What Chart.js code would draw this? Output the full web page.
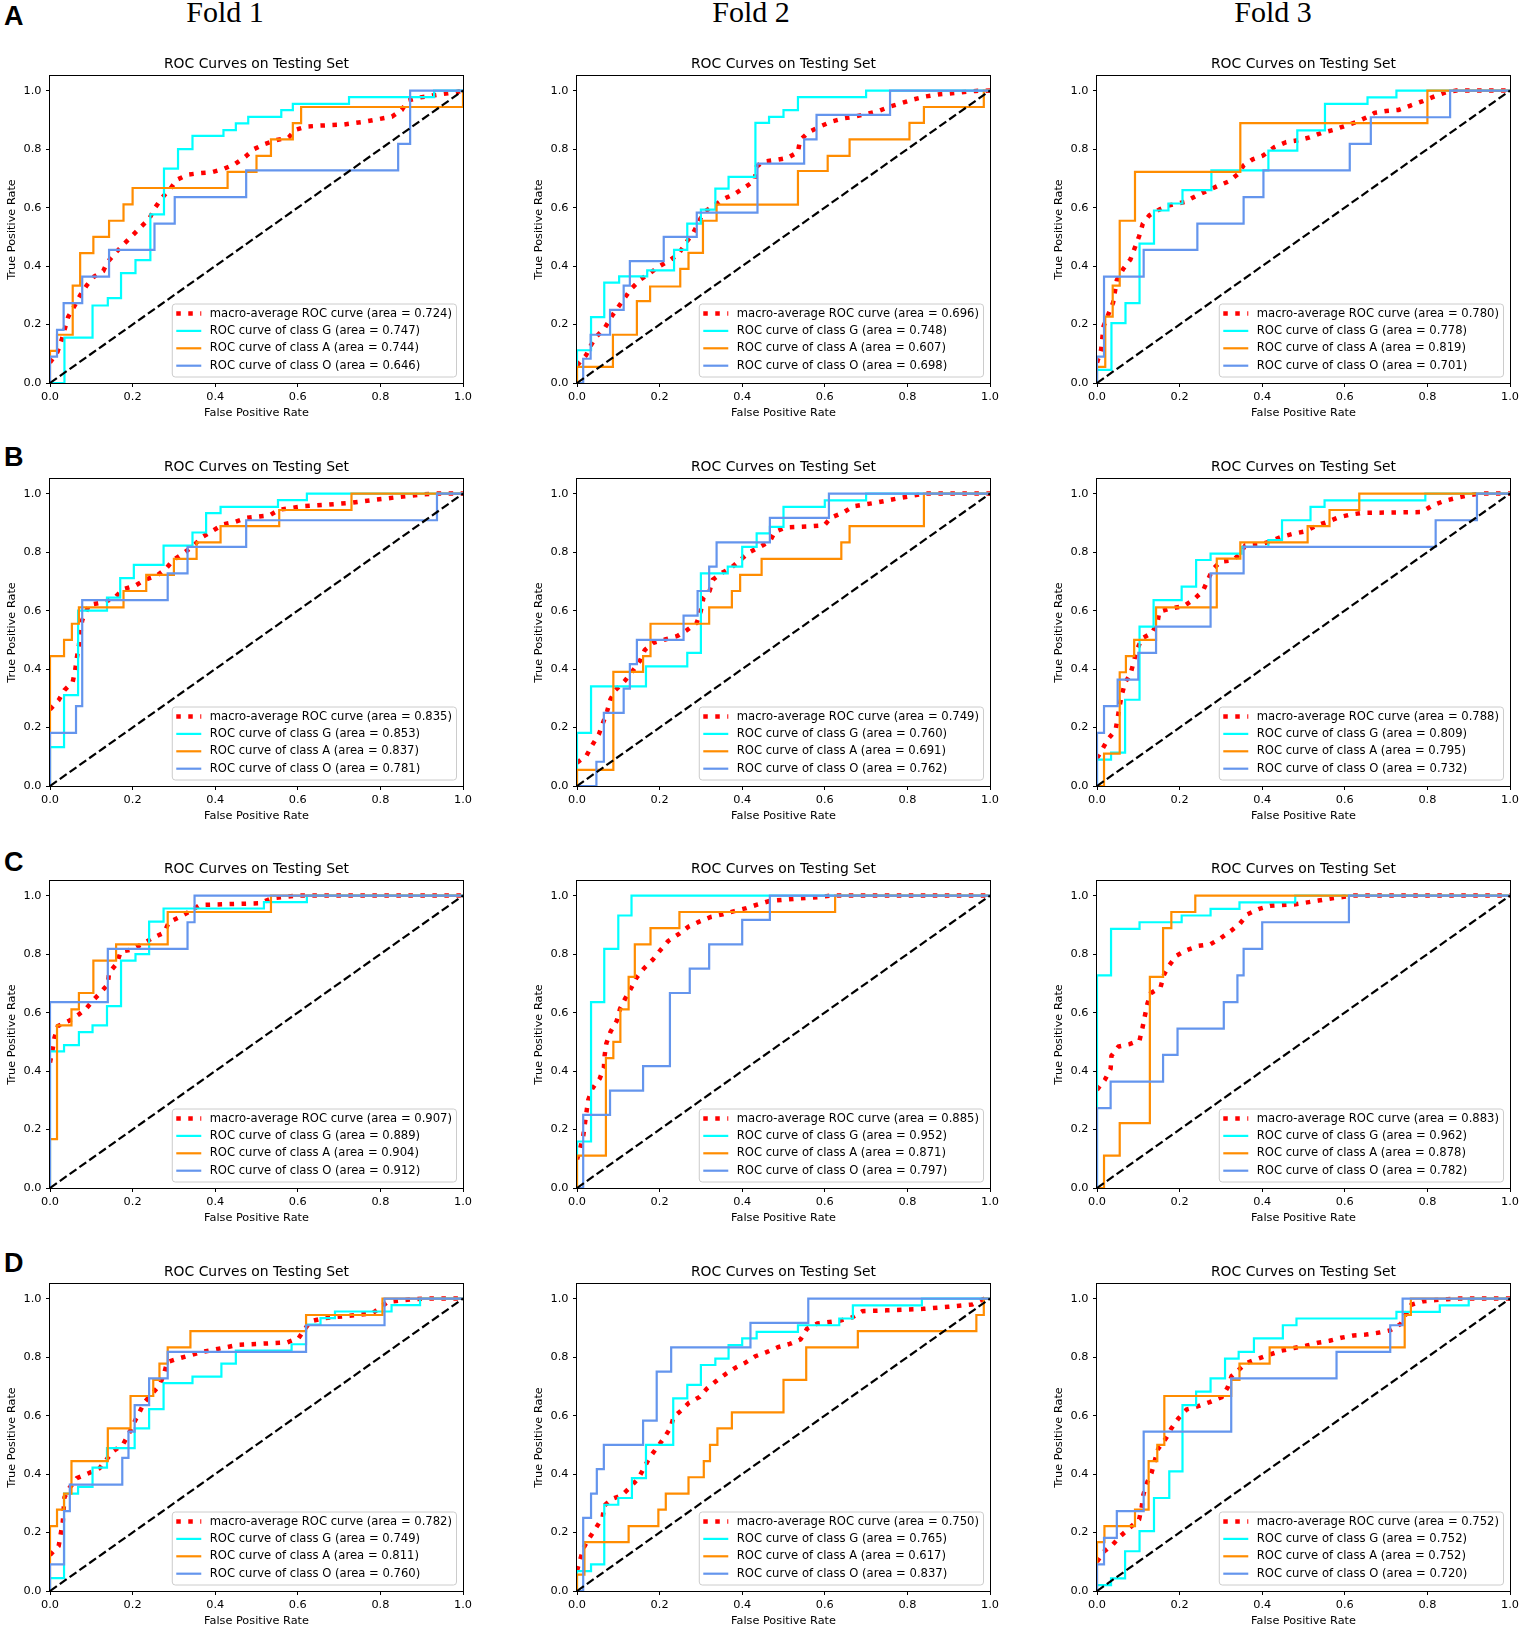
<!DOCTYPE html>
<html>
<head>
<meta charset="utf-8">
<script src="https://cdn.jsdelivr.net/npm/chart.js@4.4.1/dist/chart.umd.min.js"></script>
<style>
html, body { margin: 0; padding: 0; background: #fff; overflow: hidden; }
#wrap { position: relative; width: 1521px; height: 1629px; }
canvas { position: absolute; }
.fold { position: absolute; top: -3px; width: 200px; text-align: center; font: 30px/30px "Liberation Serif", serif; color: #000; }
.tag { position: absolute; left: 4px; font: bold 27px/27px "Liberation Sans", sans-serif; color: #000; }
</style>
</head>
<body>
<div id="wrap"></div>
<script>
// labels
const rowTags = ['A', 'B', 'C', 'D'];
const folds = ['Fold 1', 'Fold 2', 'Fold 3'];
const classNames = ['G', 'A', 'O'];
const chartTitle = 'ROC Curves on Testing Set';
const xTitle = 'False Positive Rate';
const yTitle = 'True Positive Rate';
const tickValues = [0, 0.2, 0.4, 0.6, 0.8, 1.0];

// areas, rows A-D x folds 1-3
const aucMacro = [[0.724, 0.696, 0.780], [0.835, 0.749, 0.788], [0.907, 0.885, 0.883], [0.782, 0.750, 0.752]];
const aucG = [[0.747, 0.748, 0.778], [0.853, 0.760, 0.809], [0.889, 0.952, 0.962], [0.749, 0.765, 0.752]];
const aucA = [[0.744, 0.607, 0.819], [0.837, 0.691, 0.795], [0.904, 0.871, 0.878], [0.811, 0.617, 0.752]];
const aucO = [[0.646, 0.698, 0.701], [0.781, 0.762, 0.732], [0.912, 0.797, 0.782], [0.760, 0.837, 0.720]];

const diagonal = [[0, 0], [1, 1]];

// class curves: [fpr, tpr] corners (run right, then up)
const A1_G = [[0,0],[0.035,0.155],[0.103,0.265],[0.14,0.29],[0.172,0.376],[0.207,0.42],[0.243,0.577],[0.276,0.733],[0.31,0.8],[0.345,0.845],[0.42,0.865],[0.45,0.888],[0.48,0.91],[0.56,0.933],[0.588,0.955],[0.724,0.978],[0.93,1],[1,1]];
const A1_A = [[0,0],[0,0.11],[0.017,0.165],[0.055,0.333],[0.073,0.444],[0.105,0.5],[0.143,0.555],[0.178,0.611],[0.2,0.667],[0.43,0.722],[0.5,0.777],[0.535,0.833],[0.588,0.889],[0.608,0.944],[1,1]];
const A1_O = [[0,0],[0,0.09],[0.017,0.182],[0.033,0.273],[0.078,0.364],[0.143,0.455],[0.253,0.545],[0.302,0.636],[0.475,0.727],[0.843,0.818],[0.872,1],[1,1]];
const A1_macro = [[0,0.07],[0.018,0.106],[0.028,0.146],[0.036,0.186],[0.044,0.226],[0.06,0.265],[0.073,0.3],[0.089,0.334],[0.107,0.364],[0.129,0.383],[0.139,0.413],[0.158,0.444],[0.178,0.474],[0.198,0.502],[0.218,0.531],[0.24,0.561],[0.254,0.599],[0.271,0.633],[0.291,0.664],[0.307,0.695],[0.335,0.713],[0.363,0.718],[0.392,0.721],[0.42,0.732],[0.448,0.749],[0.473,0.774],[0.494,0.8],[0.521,0.818],[0.549,0.831],[0.578,0.84],[0.594,0.866],[0.622,0.877],[0.65,0.88],[0.711,0.884],[0.767,0.895],[0.798,0.903],[0.828,0.911],[0.852,0.934],[0.866,0.966],[0.897,0.977],[0.925,0.983],[0.953,0.989],[0.981,0.994],[1,1]];

const A2_G = [[0,0],[0,0.112],[0.034,0.225],[0.066,0.343],[0.102,0.365],[0.17,0.385],[0.235,0.455],[0.267,0.545],[0.3,0.593],[0.335,0.665],[0.367,0.705],[0.432,0.89],[0.465,0.91],[0.5,0.933],[0.535,0.978],[0.7,1],[1,1]];
const A2_A = [[0,0],[0,0.055],[0.087,0.165],[0.145,0.28],[0.177,0.33],[0.25,0.39],[0.27,0.445],[0.305,0.555],[0.338,0.61],[0.535,0.725],[0.607,0.777],[0.66,0.833],[0.805,0.89],[0.84,0.944],[0.985,1],[1,1]];
const A2_O = [[0,0],[0.015,0.083],[0.033,0.165],[0.08,0.25],[0.113,0.333],[0.128,0.417],[0.21,0.5],[0.29,0.583],[0.437,0.75],[0.55,0.833],[0.58,0.917],[0.758,1],[1,1]];
const A2_macro = [[0,0.06],[0.022,0.095],[0.034,0.13],[0.048,0.16],[0.068,0.19],[0.085,0.23],[0.1,0.26],[0.117,0.294],[0.133,0.325],[0.153,0.353],[0.177,0.376],[0.2,0.4],[0.225,0.42],[0.245,0.44],[0.266,0.484],[0.282,0.515],[0.3,0.565],[0.31,0.587],[0.334,0.609],[0.354,0.629],[0.382,0.647],[0.406,0.669],[0.43,0.692],[0.435,0.74],[0.45,0.757],[0.483,0.763],[0.51,0.77],[0.535,0.79],[0.54,0.83],[0.56,0.857],[0.588,0.877],[0.616,0.894],[0.644,0.905],[0.672,0.911],[0.73,0.93],[0.757,0.945],[0.785,0.957],[0.815,0.97],[0.844,0.98],[0.874,0.987],[0.9,0.99],[0.93,0.994],[0.966,0.999],[1,1]];

const A3_G = [[0,0],[0,0.045],[0.035,0.205],[0.069,0.273],[0.103,0.477],[0.138,0.59],[0.173,0.614],[0.207,0.66],[0.277,0.727],[0.415,0.795],[0.485,0.864],[0.552,0.955],[0.655,0.977],[0.725,1],[1,1]];
const A3_A = [[0,0],[0,0.055],[0.02,0.227],[0.038,0.333],[0.055,0.555],[0.092,0.722],[0.347,0.889],[0.8,1],[1,1]];
const A3_O = [[0,0],[0,0.09],[0.017,0.364],[0.113,0.455],[0.243,0.545],[0.355,0.636],[0.403,0.727],[0.612,0.818],[0.663,0.909],[0.855,1],[1,1]];
const A3_macro = [[0,0.07],[0.01,0.114],[0.016,0.195],[0.027,0.233],[0.039,0.275],[0.048,0.352],[0.063,0.389],[0.081,0.423],[0.102,0.502],[0.111,0.545],[0.127,0.574],[0.152,0.594],[0.176,0.608],[0.212,0.619],[0.239,0.639],[0.265,0.656],[0.291,0.673],[0.32,0.69],[0.341,0.714],[0.355,0.744],[0.377,0.765],[0.402,0.778],[0.43,0.807],[0.458,0.824],[0.486,0.83],[0.515,0.84],[0.543,0.855],[0.573,0.866],[0.602,0.88],[0.627,0.892],[0.655,0.91],[0.672,0.924],[0.7,0.93],[0.73,0.934],[0.759,0.949],[0.789,0.964],[0.817,0.98],[0.844,0.994],[0.87,1],[1,1]];

const B1_G = [[0,0],[0,0.133],[0.034,0.311],[0.068,0.6],[0.138,0.644],[0.17,0.711],[0.203,0.756],[0.275,0.822],[0.345,0.867],[0.378,0.933],[0.413,0.955],[0.552,0.978],[0.622,1],[1,1]];
const B1_A = [[0,0],[0,0.444],[0.034,0.5],[0.053,0.555],[0.07,0.611],[0.178,0.667],[0.233,0.722],[0.3,0.777],[0.355,0.833],[0.413,0.889],[0.555,0.944],[0.73,1],[1,1]];
const B1_O = [[0,0],[0,0.182],[0.063,0.273],[0.078,0.636],[0.285,0.727],[0.333,0.818],[0.475,0.909],[0.937,1],[1,1]];
const B1_macro = [[0,0.262],[0.021,0.294],[0.035,0.328],[0.055,0.356],[0.061,0.396],[0.065,0.438],[0.07,0.482],[0.074,0.524],[0.078,0.567],[0.095,0.62],[0.128,0.628],[0.156,0.643],[0.176,0.673],[0.205,0.684],[0.231,0.706],[0.257,0.718],[0.28,0.742],[0.298,0.772],[0.324,0.797],[0.346,0.82],[0.369,0.852],[0.393,0.872],[0.419,0.895],[0.447,0.903],[0.476,0.917],[0.532,0.926],[0.555,0.945],[0.613,0.957],[0.67,0.962],[0.73,0.969],[0.787,0.979],[0.848,0.989],[0.906,0.998],[0.937,1],[1,1]];

const B2_G = [[0,0],[0,0.182],[0.034,0.341],[0.167,0.409],[0.267,0.455],[0.3,0.727],[0.365,0.75],[0.4,0.818],[0.435,0.864],[0.467,0.886],[0.5,0.955],[0.6,0.977],[0.7,1],[1,1]];
const B2_A = [[0,0],[0,0.055],[0.088,0.39],[0.16,0.444],[0.178,0.555],[0.32,0.611],[0.375,0.667],[0.395,0.722],[0.447,0.777],[0.64,0.833],[0.66,0.889],[0.84,1],[1,1]];
const B2_O = [[0,0],[0.047,0.083],[0.065,0.25],[0.113,0.333],[0.128,0.417],[0.145,0.5],[0.258,0.583],[0.292,0.667],[0.32,0.75],[0.338,0.833],[0.467,0.917],[0.61,1],[1,1]];
const B2_macro = [[0,0.08],[0.023,0.104],[0.037,0.14],[0.053,0.177],[0.063,0.216],[0.073,0.256],[0.081,0.296],[0.093,0.328],[0.116,0.36],[0.135,0.394],[0.152,0.427],[0.164,0.465],[0.185,0.49],[0.213,0.501],[0.243,0.513],[0.266,0.533],[0.29,0.558],[0.3,0.6],[0.306,0.643],[0.321,0.667],[0.329,0.706],[0.351,0.729],[0.374,0.747],[0.396,0.774],[0.418,0.8],[0.443,0.818],[0.467,0.837],[0.479,0.869],[0.505,0.884],[0.564,0.888],[0.599,0.892],[0.615,0.918],[0.643,0.934],[0.67,0.957],[0.724,0.969],[0.785,0.986],[0.842,1],[1,1]];

const B3_G = [[0,0],[0,0.09],[0.034,0.114],[0.068,0.295],[0.103,0.545],[0.137,0.636],[0.205,0.682],[0.24,0.773],[0.275,0.795],[0.35,0.818],[0.415,0.841],[0.448,0.909],[0.517,0.955],[0.551,0.977],[0.795,1],[1,1]];
const B3_A = [[0,0],[0.017,0.111],[0.055,0.389],[0.07,0.444],[0.09,0.5],[0.143,0.611],[0.29,0.778],[0.347,0.833],[0.51,0.889],[0.563,0.944],[0.635,1],[1,1]];
const B3_O = [[0,0],[0,0.182],[0.017,0.273],[0.05,0.364],[0.1,0.455],[0.143,0.545],[0.275,0.727],[0.355,0.818],[0.82,0.909],[0.92,1],[1,1]];
const B3_macro = [[0,0.095],[0.015,0.131],[0.027,0.161],[0.045,0.191],[0.05,0.233],[0.055,0.275],[0.061,0.317],[0.068,0.354],[0.081,0.383],[0.097,0.467],[0.109,0.505],[0.134,0.524],[0.147,0.564],[0.151,0.596],[0.178,0.607],[0.21,0.615],[0.234,0.638],[0.256,0.666],[0.28,0.741],[0.299,0.767],[0.329,0.772],[0.347,0.795],[0.359,0.823],[0.392,0.825],[0.416,0.835],[0.446,0.852],[0.476,0.863],[0.504,0.871],[0.533,0.892],[0.557,0.903],[0.583,0.918],[0.613,0.928],[0.641,0.934],[0.786,0.937],[0.813,0.96],[0.841,0.975],[0.869,0.985],[0.899,0.994],[0.927,1],[1,1]];

const C1_G = [[0,0],[0,0.467],[0.034,0.489],[0.07,0.533],[0.103,0.556],[0.138,0.622],[0.172,0.778],[0.207,0.8],[0.24,0.911],[0.275,0.956],[0.518,0.978],[0.622,1],[1,1]];
const C1_A = [[0,0],[0,0.167],[0.017,0.556],[0.052,0.611],[0.07,0.667],[0.105,0.778],[0.16,0.833],[0.285,0.944],[0.535,1],[1,1]];
const C1_O = [[0,0],[0,0.636],[0.14,0.818],[0.333,0.909],[0.35,1],[1,1]];
const C1_macro = [[0,0.429],[0.006,0.471],[0.011,0.515],[0.019,0.554],[0.045,0.571],[0.07,0.594],[0.089,0.616],[0.105,0.643],[0.122,0.668],[0.14,0.696],[0.143,0.736],[0.162,0.768],[0.171,0.808],[0.199,0.816],[0.225,0.836],[0.251,0.857],[0.276,0.873],[0.288,0.909],[0.314,0.927],[0.34,0.947],[0.363,0.968],[0.509,0.974],[0.537,0.991],[0.567,0.995],[0.596,1],[1,1]];

const C2_G = [[0,0],[0,0.159],[0.034,0.636],[0.066,0.818],[0.1,0.932],[0.132,1],[1,1]];
const C2_A = [[0,0],[0,0.111],[0.07,0.444],[0.088,0.5],[0.105,0.611],[0.125,0.722],[0.14,0.833],[0.178,0.889],[0.248,0.944],[0.625,1],[1,1]];
const C2_O = [[0,0],[0.015,0.25],[0.08,0.333],[0.16,0.417],[0.225,0.667],[0.273,0.75],[0.32,0.833],[0.4,0.917],[0.467,1],[1,1]];
const C2_macro = [[0,0.098],[0.008,0.137],[0.015,0.177],[0.023,0.26],[0.027,0.3],[0.037,0.34],[0.055,0.374],[0.065,0.411],[0.067,0.454],[0.071,0.494],[0.081,0.534],[0.096,0.571],[0.104,0.612],[0.116,0.646],[0.131,0.683],[0.144,0.719],[0.162,0.751],[0.183,0.78],[0.201,0.812],[0.221,0.845],[0.246,0.868],[0.27,0.894],[0.296,0.911],[0.324,0.927],[0.353,0.936],[0.381,0.947],[0.41,0.957],[0.438,0.97],[0.467,0.982],[0.526,0.989],[0.586,0.995],[0.615,1],[1,1]];

const C3_G = [[0,0],[0,0.727],[0.034,0.886],[0.103,0.909],[0.205,0.932],[0.275,0.955],[0.345,0.977],[0.48,1],[1,1]];
const C3_A = [[0,0],[0.017,0.111],[0.055,0.222],[0.128,0.722],[0.16,0.889],[0.18,0.944],[0.238,1],[1,1]];
const C3_O = [[0,0],[0,0.273],[0.033,0.364],[0.16,0.455],[0.195,0.545],[0.307,0.636],[0.34,0.727],[0.355,0.818],[0.4,0.909],[0.61,1],[1,1]];
const C3_macro = [[0,0.336],[0.019,0.37],[0.033,0.408],[0.035,0.452],[0.052,0.484],[0.079,0.492],[0.103,0.505],[0.11,0.547],[0.116,0.589],[0.122,0.63],[0.13,0.666],[0.154,0.687],[0.162,0.729],[0.174,0.76],[0.192,0.794],[0.216,0.813],[0.245,0.828],[0.275,0.834],[0.299,0.854],[0.324,0.879],[0.346,0.904],[0.364,0.936],[0.391,0.954],[0.419,0.965],[0.477,0.97],[0.505,0.976],[0.536,0.983],[0.566,0.99],[0.594,0.995],[0.622,1],[1,1]];

const D1_G = [[0,0],[0,0.044],[0.034,0.333],[0.068,0.356],[0.103,0.422],[0.138,0.489],[0.205,0.556],[0.24,0.622],[0.275,0.711],[0.345,0.733],[0.415,0.778],[0.45,0.822],[0.585,0.844],[0.62,0.911],[0.655,0.933],[0.69,0.956],[0.827,0.978],[0.896,1],[1,1]];
const D1_A = [[0,0],[0,0.222],[0.017,0.278],[0.034,0.333],[0.052,0.444],[0.14,0.556],[0.195,0.667],[0.25,0.722],[0.265,0.778],[0.285,0.833],[0.34,0.889],[0.62,0.944],[0.805,1],[1,1]];
const D1_O = [[0,0],[0,0.091],[0.034,0.273],[0.048,0.364],[0.175,0.455],[0.19,0.545],[0.205,0.636],[0.24,0.727],[0.285,0.818],[0.62,0.909],[0.81,1],[1,1]];
const D1_macro = [[0,0.123],[0.021,0.154],[0.026,0.195],[0.031,0.237],[0.035,0.32],[0.047,0.352],[0.065,0.386],[0.092,0.402],[0.12,0.42],[0.152,0.477],[0.177,0.502],[0.191,0.538],[0.205,0.58],[0.229,0.646],[0.266,0.705],[0.276,0.743],[0.284,0.783],[0.31,0.795],[0.339,0.806],[0.367,0.817],[0.395,0.825],[0.425,0.833],[0.455,0.842],[0.515,0.846],[0.574,0.85],[0.602,0.865],[0.63,0.922],[0.659,0.932],[0.691,0.937],[0.75,0.945],[0.78,0.949],[0.818,0.989],[0.849,0.994],[0.88,0.998],[0.91,1],[1,1]];

const D2_G = [[0,0],[0,0.068],[0.034,0.091],[0.066,0.295],[0.1,0.318],[0.133,0.386],[0.167,0.5],[0.233,0.659],[0.267,0.705],[0.3,0.773],[0.335,0.795],[0.367,0.841],[0.4,0.864],[0.435,0.886],[0.535,0.909],[0.635,0.932],[0.668,0.977],[0.835,1],[1,1]];
const D2_A = [[0,0],[0,0.056],[0.018,0.167],[0.125,0.222],[0.197,0.278],[0.215,0.333],[0.27,0.389],[0.307,0.444],[0.322,0.5],[0.34,0.556],[0.375,0.611],[0.5,0.722],[0.555,0.833],[0.68,0.889],[0.967,0.944],[0.985,1],[1,1]];
const D2_O = [[0,0],[0.015,0.25],[0.034,0.333],[0.048,0.417],[0.065,0.5],[0.16,0.583],[0.193,0.75],[0.228,0.833],[0.42,0.917],[0.56,1],[1,1]];
const D2_macro = [[0,0.07],[0.008,0.108],[0.016,0.148],[0.031,0.184],[0.047,0.218],[0.062,0.252],[0.066,0.292],[0.085,0.315],[0.109,0.328],[0.129,0.355],[0.149,0.386],[0.175,0.455],[0.194,0.491],[0.21,0.522],[0.226,0.557],[0.234,0.595],[0.253,0.618],[0.271,0.644],[0.297,0.664],[0.315,0.693],[0.337,0.718],[0.359,0.741],[0.384,0.764],[0.408,0.781],[0.432,0.803],[0.459,0.817],[0.487,0.834],[0.515,0.845],[0.541,0.86],[0.557,0.897],[0.582,0.915],[0.638,0.925],[0.666,0.936],[0.691,0.957],[0.75,0.96],[0.838,0.965],[0.899,0.972],[0.957,0.98],[0.985,0.999],[1,1]];

const D3_G = [[0,0],[0,0.02],[0.034,0.043],[0.068,0.136],[0.103,0.205],[0.138,0.318],[0.175,0.409],[0.207,0.636],[0.24,0.682],[0.275,0.727],[0.31,0.795],[0.343,0.818],[0.38,0.864],[0.45,0.909],[0.483,0.932],[0.725,0.955],[0.83,0.977],[0.9,1],[1,1]];
const D3_A = [[0,0],[0,0.167],[0.018,0.222],[0.092,0.278],[0.125,0.444],[0.146,0.5],[0.163,0.667],[0.325,0.722],[0.345,0.778],[0.418,0.833],[0.745,0.944],[0.76,1],[1,1]];
const D3_O = [[0,0],[0,0.091],[0.017,0.182],[0.048,0.273],[0.113,0.545],[0.325,0.727],[0.58,0.818],[0.71,0.909],[0.74,1],[1,1]];
const D3_macro = [[0,0.1],[0.016,0.134],[0.037,0.157],[0.057,0.188],[0.079,0.216],[0.102,0.245],[0.108,0.285],[0.112,0.328],[0.12,0.367],[0.132,0.404],[0.14,0.446],[0.148,0.486],[0.167,0.522],[0.18,0.556],[0.197,0.59],[0.217,0.621],[0.245,0.632],[0.273,0.646],[0.302,0.663],[0.316,0.695],[0.326,0.735],[0.346,0.76],[0.362,0.78],[0.391,0.795],[0.419,0.809],[0.447,0.822],[0.477,0.831],[0.506,0.839],[0.535,0.849],[0.563,0.856],[0.591,0.866],[0.621,0.874],[0.651,0.877],[0.68,0.883],[0.709,0.891],[0.735,0.913],[0.747,0.945],[0.761,0.979],[0.79,0.991],[0.82,0.995],[0.848,0.998],[0.876,1],[1,1]];

const macroCurves = [[A1_macro, A2_macro, A3_macro], [B1_macro, B2_macro, B3_macro], [C1_macro, C2_macro, C3_macro], [D1_macro, D2_macro, D3_macro]];
const gCurves = [[A1_G, A2_G, A3_G], [B1_G, B2_G, B3_G], [C1_G, C2_G, C3_G], [D1_G, D2_G, D3_G]];
const aCurves = [[A1_A, A2_A, A3_A], [B1_A, B2_A, B3_A], [C1_A, C2_A, C3_A], [D1_A, D2_A, D3_A]];
const oCurves = [[A1_O, A2_O, A3_O], [B1_O, B2_O, B3_O], [C1_O, C2_O, C3_O], [D1_O, D2_O, D3_O]];

// layout (px)
const frameLeft = [50, 577, 1097];
const frameTop = [76, 479, 881, 1284];
const foldCenter = [225, 751, 1273];
const tagTop = [3, 444, 849, 1250];
const padL = 45, padR = 45, padT = 24, padB = 37;
const frameW = 413, frameH = 307;

Chart.defaults.font.family = '"DejaVu Sans", sans-serif';
Chart.defaults.color = '#000';

const pts = arr => arr.map(p => ({ x: p[0], y: p[1] }));

function line(points, label, color, width, dash, order, stepped) {
  return {
    label: label, data: pts(points), showLine: true, stepped: stepped,
    borderColor: color, backgroundColor: color, borderWidth: width,
    borderDash: dash, borderCapStyle: 'butt', borderJoinStyle: 'miter',
    pointRadius: 0, pointHoverRadius: 0, fill: false, order: order
  };
}

const framePlugin = {
  id: 'frameAndLegend',
  afterDraw(chart) {
    const { ctx, chartArea: a } = chart;
    ctx.save();
    // axes box
    ctx.strokeStyle = '#000';
    ctx.lineWidth = 1;
    ctx.setLineDash([]);
    ctx.strokeRect(a.left - 0.5, a.top - 0.5, a.right - a.left + 1, a.bottom - a.top + 1);
    // title over the axes
    ctx.fillStyle = '#000';
    ctx.font = '13.9px "DejaVu Sans"';
    ctx.textAlign = 'center';
    ctx.textBaseline = 'middle';
    ctx.fillText(chartTitle, (a.left + a.right) / 2, a.top - 12);
    // legend, lower right inside the axes
    const items = chart.data.datasets.filter(d => d.label);
    ctx.font = '11.6px "DejaVu Sans"';
    const tw = Math.max(...items.map(d => ctx.measureText(d.label).width));
    const boxW = 4 + 25 + 8.5 + tw + 4.5;
    const boxH = 73;
    const x0 = a.right - 6.5 - boxW;
    const y0 = a.bottom - 6 - boxH;
    ctx.beginPath();
    ctx.roundRect(x0, y0, boxW, boxH, 3);
    ctx.fillStyle = 'rgba(255,255,255,0.8)';
    ctx.fill();
    ctx.strokeStyle = '#cccccc';
    ctx.lineWidth = 1;
    ctx.stroke();
    items.forEach((d, i) => {
      const cy = y0 + 9.5 + i * 17.4;
      ctx.beginPath();
      ctx.strokeStyle = d.borderColor;
      ctx.lineWidth = d.borderWidth;
      ctx.lineCap = 'butt';
      ctx.setLineDash(d.borderDash || []);
      ctx.moveTo(x0 + 4, cy);
      ctx.lineTo(x0 + 29, cy);
      ctx.stroke();
      ctx.setLineDash([]);
      ctx.fillStyle = '#000';
      ctx.textAlign = 'left';
      ctx.textBaseline = 'middle';
      ctx.fillText(d.label, x0 + 37.5, cy);
    });
    ctx.restore();
  }
};

const wrap = document.getElementById('wrap');

folds.forEach((f, c) => {
  const el = document.createElement('div');
  el.className = 'fold';
  el.style.left = (foldCenter[c] - 100) + 'px';
  el.textContent = f;
  wrap.appendChild(el);
});

rowTags.forEach((t, r) => {
  const el = document.createElement('div');
  el.className = 'tag';
  el.style.top = tagTop[r] + 'px';
  el.textContent = t;
  wrap.appendChild(el);
});

for (let r = 0; r < rowTags.length; r++) {
  for (let c = 0; c < folds.length; c++) {
    const cv = document.createElement('canvas');
    cv.width = padL + frameW + padR;
    cv.height = padT + frameH + padB;
    cv.style.left = (frameLeft[c] - padL) + 'px';
    cv.style.top = (frameTop[r] - padT) + 'px';
    wrap.appendChild(cv);

    const datasets = [
      line(macroCurves[r][c], `macro-average ROC curve (area = ${aucMacro[r][c].toFixed(3)})`, '#ff0000', 4.5, [4.5, 7.5], 4, false),
      line(gCurves[r][c], `ROC curve of class ${classNames[0]} (area = ${aucG[r][c].toFixed(3)})`, '#00ffff', 2.2, [], 3, 'before'),
      line(aCurves[r][c], `ROC curve of class ${classNames[1]} (area = ${aucA[r][c].toFixed(3)})`, '#ff8c00', 2.2, [], 2, 'before'),
      line(oCurves[r][c], `ROC curve of class ${classNames[2]} (area = ${aucO[r][c].toFixed(3)})`, '#6495ed', 2.2, [], 1, 'before'),
      line(diagonal, '', '#000000', 2.2, [8.4, 3.6], 0, false)
    ];

    const axisCommon = {
      type: 'linear',
      afterBuildTicks: s => { s.ticks = tickValues.map(v => ({ value: v })); },
      grid: { drawOnChartArea: false, drawTicks: true, tickLength: 4, color: '#000', lineWidth: 1 },
      border: { display: false }
    };

    new Chart(cv, {
      type: 'scatter',
      data: { datasets: datasets },
      options: {
        responsive: false,
        animation: false,
        events: [],
        layout: { padding: { left: 0, right: padR, top: padT, bottom: 0 } },
        plugins: { legend: { display: false }, tooltip: { enabled: false }, title: { display: false } },
        scales: {
          x: Object.assign({}, axisCommon, {
            min: 0, max: 1,
            afterFit: s => { s.height = padB; },
            ticks: { callback: v => v.toFixed(1), padding: 3, color: '#000', font: { size: 11.3 }, maxRotation: 0, autoSkip: false },
            title: { display: true, text: xTitle, color: '#000', font: { size: 11.3, lineHeight: '14px' }, padding: { top: 0, bottom: 0 } }
          }),
          y: Object.assign({}, axisCommon, {
            min: 0, max: 1.05,
            afterFit: s => { s.width = padL; },
            ticks: { callback: v => v.toFixed(1), padding: 4.5, color: '#000', font: { size: 11.3 }, autoSkip: false },
            title: { display: true, text: yTitle, color: '#000', font: { size: 11.3, lineHeight: '14px' }, padding: { top: 0, bottom: 0 } }
          })
        }
      },
      plugins: [framePlugin]
    });
  }
}
</script>
</body>
</html>
